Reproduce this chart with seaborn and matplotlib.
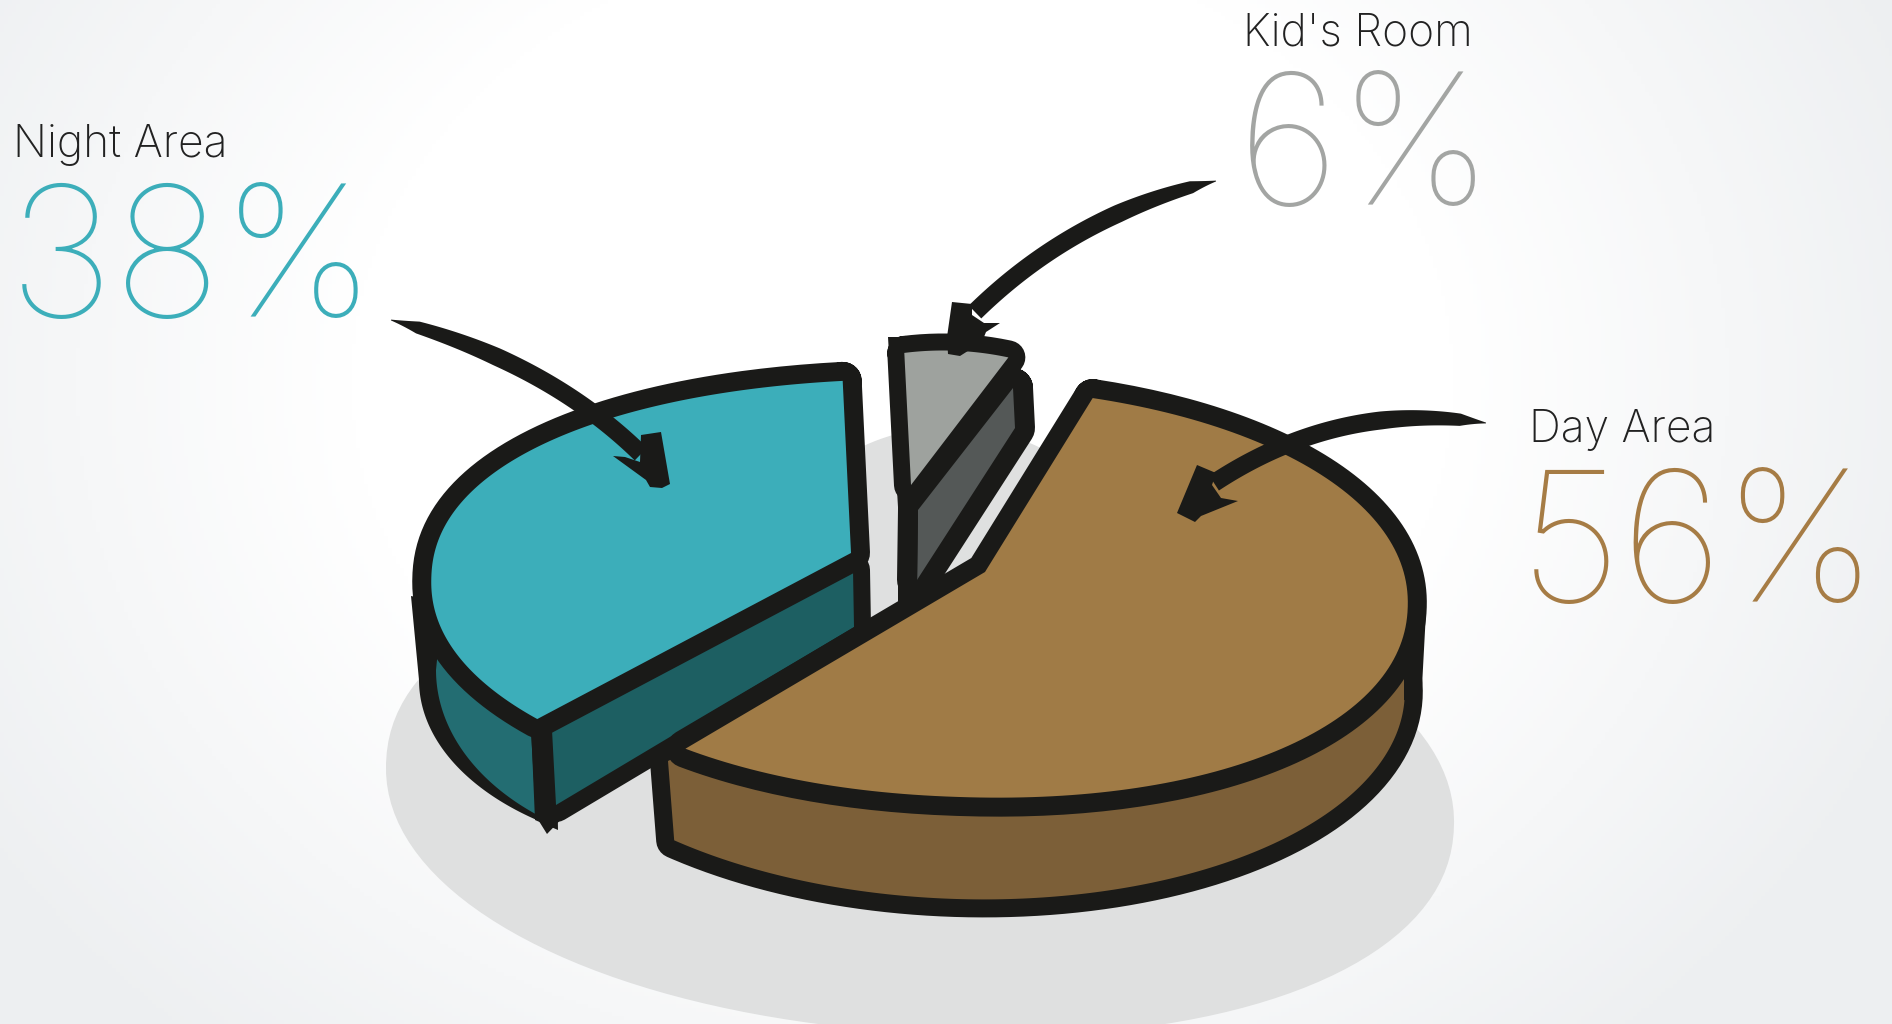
import numpy as np
import pandas as pd
import matplotlib
matplotlib.use("Agg")
import matplotlib.pyplot as plt
from matplotlib.colors import LinearSegmentedColormap
import seaborn as sns

# values of the chart
areas = ["Day Area", "Night Area", "Kid's Room"]
shares = [56, 38, 6]
text_colors = ["#A67C45", "#3CAEBA", "#A3A5A3"]

BLACK = "#1A1A18"
PX = 0.72  # 1 px in points at dpi 100

sns.set_theme(style="white")
plt.rcParams["font.family"] = ["Inter", "Roboto", "DejaVu Sans"]

fig, ax = plt.subplots(figsize=(18.92, 10.24), dpi=100)
ax.set_position([0, 0, 1, 1])
ax.axis("off")

# background
xx, yy = np.meshgrid(np.arange(0, 1892, 4), np.arange(0, 1024, 4))
dist = np.hypot((xx - 900) / 1100, (yy - 380) / 900)
cmap = LinearSegmentedColormap.from_list("bg", ["#FFFFFF", "#FFFFFF", "#EDEFF1"])
ax.imshow(np.clip(dist, 0, 1), cmap=cmap, extent=[0, 1892, 1024, 0], aspect="auto", vmin=0, vmax=1, zorder=0)
ax.set_xlim(0, 1892)
ax.set_ylim(1024, 0)

layer = [1]


def next_z():
    layer[0] += 1
    return layer[0]


def arc(cx, cy, rx, ry, t0, t1, rot=0, n=2.0):
    t = np.radians(np.linspace(t0, t1, 160))
    c, s = np.cos(t), np.sin(t)
    x = rx * np.sign(c) * np.abs(c) ** (2 / n)
    y = ry * np.sign(s) * np.abs(s) ** (2 / n)
    r = np.radians(rot)
    return list(zip(cx + x * np.cos(r) - y * np.sin(r), cy + x * np.sin(r) + y * np.cos(r)))


def outline(pts, width):
    pts = list(pts) + [pts[0]]
    df = pd.DataFrame(pts, columns=["x", "y"])
    sns.lineplot(data=df, x="x", y="y", sort=False, estimator=None, color=BLACK, linewidth=width * PX,
                 solid_joinstyle="round", solid_capstyle="round", ax=ax, legend=False, zorder=next_z())


def solid(pts, color):
    xy = np.array(pts)
    ax.fill(xy[:, 0], xy[:, 1], color=color, lw=0, zorder=next_z())


def face(pts, color, stroke=0):
    if stroke:
        outline(pts, stroke * 2)
    solid(pts, color)


def arrow(p0, p1, p2, head):
    u = np.linspace(0, 1, 80)
    p0, p1, p2 = np.array(p0), np.array(p1), np.array(p2)
    c = np.outer((1 - u) ** 2, p0) + np.outer(2 * u * (1 - u), p1) + np.outer(u ** 2, p2)
    d = np.gradient(c, axis=0)
    n = np.c_[-d[:, 1], d[:, 0]] / np.hypot(d[:, 0], d[:, 1])[:, None]
    w = 9 * np.minimum(1, 0.45 + u ** 0.6)[:, None]
    w[:8] *= np.linspace(0.1, 1, 8)[:, None]
    body = np.vstack([c + n * w, (c - n * w)[::-1]])
    solid(body, BLACK)
    solid(head, BLACK)


# shadow under the pie
solid(arc(920, 795, 535, 238, 0, 360, rot=4, n=2.1), "#DFE0E0")
solid(arc(950, 600, 190, 173, 0, 360), "#DFE0E0")

share = dict(zip(areas, shares))

# night slice
sweep = share["Night Area"] / 100 * 360 * 0.837
top = arc(980, 596, 549, 216, 256.2, 256.2 - sweep, rot=2, n=2.15) + [(851, 553)]
wall = arc(696, 670, 260, 183, 180, 128) + [(531, 732), (600, 650), (438, 650)]
solid([(411, 596)] + arc(700, 680, 281, 172, 180, 125) + [(547, 834), (570, 810), (540, 760), (430, 600)], BLACK)
face(wall, "#236D72", 3)
solid([(531, 725), (556, 725), (558, 830), (535, 820)], BLACK)
face([(552, 730), (853, 570), (854, 627), (556, 805)], "#1D5F62", 17)
face(top, "#3CAEBA", 19)

# kid's room slice
sweep = share["Kid's Room"] / 100 * 360
face([(1013, 388), (1015, 428), (917, 580), (918, 510)], "#545857", 20)
solid([(888, 337), (904, 337), (911, 485), (918, 510), (917, 600), (898, 605), (898, 507)], BLACK)
face(arc(943, 597.5, 278, 247, -98, -98 + sweep) + [(911, 485)], "#9EA29E", 17)

# day slice
sweep = share["Day Area"] / 100 * 360
face(arc(960, 680, 445, 219, -10, 129, rot=2) + [(668, 761), (1000, 600)], "#7C5F38", 18)
solid([(1426, 612), (1421, 705), (1404, 700), (1404, 612)], BLACK)
face(arc(963, 592, 445, 205, -75, -75 + sweep, rot=2, n=2.1) + [(985, 572)], "#A07B46", 19)

# arrows
arrow((391, 320), (545, 360), (641, 454),
      [(641, 435), (661, 432), (670, 484), (662, 488), (650, 487), (646, 480), (613, 456), (625, 457), (640, 462)])
arrow((1216, 181), (1076, 213), (975, 312),
      [(952, 302), (972, 304), (972, 315), (984, 323), (1000, 323), (986, 332), (982, 342), (960, 356), (948, 354), (947, 337)])
arrow((1486, 423), (1340, 400), (1214, 483),
      [(1197, 465), (1216, 473), (1212, 485), (1221, 498), (1238, 501), (1201, 516), (1195, 522), (1177, 513)])

# labels
label_pos = {"Day Area": (1529, 442), "Night Area": (13, 157), "Kid's Room": (1243, 46)}
value_pos = {"Day Area": (1519, 602), "Night Area": (8, 317), "Kid's Room": (1237, 205)}
for name, value, col in zip(areas, shares, text_colors):
    lx, ly = label_pos[name]
    vx, vy = value_pos[name]
    ax.text(lx, ly, name, fontsize=32, fontweight=200, color="#222222", ha="left", va="baseline", zorder=next_z())
    ax.text(vx, vy, f"{value}%", fontsize=131, fontweight=100, color=col, ha="left", va="baseline", zorder=next_z())

fig.savefig("out.png", dpi=100)
